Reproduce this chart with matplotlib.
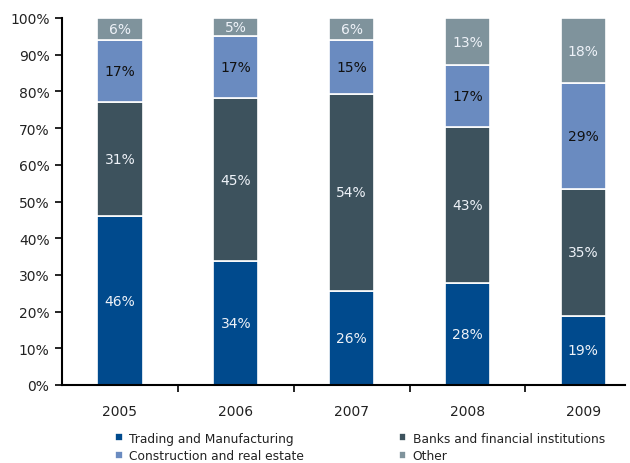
import numpy as np
import matplotlib
matplotlib.use("Agg")
import matplotlib.pyplot as plt
from matplotlib.ticker import FixedLocator, PercentFormatter

years = ["2005", "2006", "2007", "2008", "2009"]
trading = [46, 34, 26, 28, 19]
banks = [31, 45, 54, 43, 35]
construction = [17, 17, 15, 17, 29]
other = [6, 5, 6, 13, 18]

series = [
    ("Trading and Manufacturing", trading, "#004a8d", "#eef2f8"),
    ("Banks and financial institutions", banks, "#3d525d", "#eef2f8"),
    ("Construction and real estate", construction, "#6a8bc0", "#111111"),
    ("Other", other, "#7f939c", "#eef2f8"),
]

totals = np.sum([s[1] for s in series], axis=0).astype(float)

fig = plt.figure(figsize=(6.3, 4.64), dpi=100)
ax = fig.add_axes([62 / 630, 78 / 464, (625 - 62) / 630, (386 - 19) / 464])

x = np.arange(len(years))
bottom = np.zeros(len(years))
handles = []
for name, vals, color, tcolor in series:
    share = np.array(vals, dtype=float) / totals * 100
    bars = ax.bar(x, share, 0.39, bottom=bottom, color=color,
                  edgecolor="white", linewidth=1.2, label=name)
    handles.append(bars)
    for xi, b, h, v in zip(x, bottom, share, vals):
        ax.text(xi, b + h / 2, f"{v}%", ha="center", va="center",
                fontsize=10, color=tcolor)
    bottom += share

ax.set_xlim(-0.5, 4.36)
ax.set_ylim(0, 100)
ax.set_yticks(np.arange(0, 101, 10))
ax.yaxis.set_major_formatter(PercentFormatter(decimals=0))
ax.set_xticks(x)
ax.set_xticklabels(years)
ax.xaxis.set_minor_locator(FixedLocator(x[:-1] + 0.5))
ax.tick_params(axis="x", which="major", length=0, pad=14, labelsize=10,
               labelcolor="#222222")
ax.tick_params(axis="x", which="minor", length=5, width=1.2, direction="out")
ax.tick_params(axis="y", length=5, width=1.2, direction="out", labelsize=10,
               pad=4, labelcolor="#222222")
for side in ("top", "right"):
    ax.spines[side].set_visible(False)
for side in ("left", "bottom"):
    ax.spines[side].set_linewidth(1.5)
    ax.spines[side].set_color("black")

# legend filled row by row: Trading, Banks / Construction, Other
order = [0, 2, 1, 3]
ax.legend(handles=[handles[i] for i in order],
          labels=[series[i][0] for i in order],
          loc="upper left", bbox_to_anchor=(0.095, -0.127),
          ncol=2, frameon=False, fontsize=8.8, handlelength=0.6, handleheight=0.6,
          handletextpad=0.5, columnspacing=7.8, labelspacing=0.4,
          borderaxespad=0, borderpad=0, labelcolor="#222222")

fig.savefig("out.png", dpi=100)
